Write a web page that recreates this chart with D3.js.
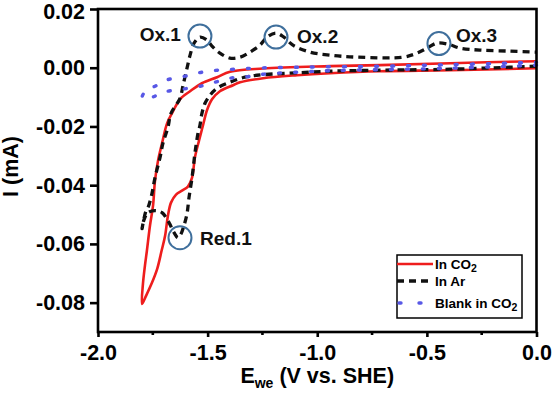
<!DOCTYPE html>
<html><head><meta charset="utf-8">
<script src="https://cdn.jsdelivr.net/npm/d3@7"></script>
<style>
html,body{margin:0;padding:0;background:#fff;}
svg{display:block;font-family:"Liberation Sans",Arial,sans-serif;font-weight:bold;}
</style></head>
<body>
<svg id="chart" width="552" height="393"></svg>
<script>
// ---- data ----
const xTicks = [-2.0, -1.5, -1.0, -0.5, 0.0];
const xTickLabels = ["-2.0", "-1.5", "-1.0", "-0.5", "0.0"];
const xMinorTicks = [-1.75, -1.25, -0.75, -0.25];
const yTicks = [0.02, 0.00, -0.02, -0.04, -0.06, -0.08];
const yTickLabels = ["0.02", "0.00", "-0.02", "-0.04", "-0.06", "-0.08"];

// In CO2 (red solid)
const co2E = [0.0, -0.394, -0.714, -0.942, -1.092, -1.247, -1.352, -1.384, -1.444, -1.480, -1.503, -1.521, -1.539, -1.558, -1.571, -1.590, -1.617, -1.644, -1.667, -1.681, -1.694, -1.710, -1.730, -1.756, -1.781, -1.799,
  -1.795, -1.786, -1.777, -1.763, -1.749, -1.740, -1.726, -1.708, -1.685, -1.658, -1.626, -1.580, -1.526, -1.457, -1.398, -1.247, -0.942, -0.714, -0.394, 0.0];
const co2I = [-0.0002, -0.00084, -0.00118, -0.00187, -0.00255, -0.00357, -0.00494, -0.00597, -0.0080, -0.01075, -0.0145, -0.0196, -0.02476, -0.03056, -0.0374, -0.04047, -0.04184, -0.0432, -0.04594, -0.05038, -0.05721, -0.06234, -0.06849, -0.07361, -0.07771, -0.08044,
  -0.07361, -0.06746, -0.06234, -0.0538, -0.04696, -0.03842, -0.03159, -0.02578, -0.01895, -0.01485, -0.01075, -0.0080, -0.00528, -0.00323, -0.00135, -0.00025, 0.00053, 0.0009, 0.00155, 0.00223];

// In Ar (black dashed)
const arE = [0.0, -0.394, -0.714, -0.942, -1.079, -1.247, -1.330, -1.398, -1.457, -1.489, -1.512, -1.526, -1.535, -1.544, -1.558, -1.571, -1.585, -1.594, -1.608, -1.621, -1.635, -1.653, -1.676, -1.708, -1.740, -1.772, -1.790, -1.799,
  -1.781, -1.772, -1.754, -1.740, -1.717, -1.704, -1.681, -1.667, -1.626, -1.612, -1.594, -1.580, -1.562, -1.535, -1.503, -1.480, -1.444, -1.398, -1.352, -1.307, -1.261, -1.229, -1.188, -1.152, -1.111, -1.033, -0.942, -0.819, -0.609, -0.545, -0.499, -0.454, -0.404, -0.349, -0.258, -0.121, 0.0];
const arI = [0.00053, -0.0005, -0.00084, -0.00118, -0.0017, -0.00238, -0.00323, -0.00494, -0.0070, -0.00938, -0.01211, -0.01553, -0.01963, -0.02236, -0.0292, -0.0374, -0.04423, -0.0497, -0.0538, -0.05653, -0.0579, -0.05619, -0.05277, -0.04935, -0.04867, -0.04935, -0.05175, -0.05482,
  -0.04867, -0.04765, -0.04287, -0.0374, -0.03056, -0.02578, -0.02031, -0.01553, -0.01041, -0.0060, -0.00016, 0.00428, 0.00838, 0.01043, 0.00941, 0.00736, 0.00497, 0.00326, 0.0036, 0.00531, 0.0077, 0.01043, 0.0118, 0.01043, 0.0077, 0.00531, 0.00428, 0.0036, 0.0036, 0.00497, 0.00668, 0.00838, 0.00804, 0.00668, 0.006, 0.00565, 0.00531];

// Blank in CO2 (blue dotted)
const blankE = [0.0, -0.394, -0.714, -0.942, -1.092, -1.247, -1.320, -1.398, -1.466, -1.535, -1.617, -1.704, -1.754, -1.799,
  -1.777, -1.740, -1.690, -1.603, -1.526, -1.453, -1.375, -1.293, -1.079, -0.714, -0.394, 0.0];
const blankI = [0.00087, -0.00016, -0.00067, -0.001, -0.00152, -0.00221, -0.00306, -0.00357, -0.00494, -0.00631, -0.00733, -0.00836, -0.01006, -0.0104,
  -0.00733, -0.00631, -0.00426, -0.00289, -0.00152, -0.00084, -0.0005, -0.00016, 0.00019, 0.00053, 0.00104, 0.00189];

// Peak annotations
const peakNames = ["Ox.1", "Ox.2", "Ox.3", "Red.1"];
const peakE = [-1.535, -1.188, -0.445, -1.626];
const peakI = [0.01078, 0.01043, 0.00821, -0.0579];

const legendLabels = ["In CO", "In Ar", "Blank in CO"];
const legendSubs = ["2", "", "2"];

// ---- layout ----
const svg = d3.select("#chart");
const L = 98, R = 536.5, T = 9, B = 332;
const x = d3.scaleLinear().domain([-2, 0]).range([L, R]);
const y = d3.scaleLinear().domain([-0.09, 0.02]).range([B, T]);

const red = "#ee1d1d", black = "#111111", blue = "#5858e6", ring = "#3f6f9c";

const series = [
  {E: co2E, I: co2I, color: red, width: 2.6, dash: null, cap: "butt"},
  {E: arE, I: arI, color: black, width: 3.3, dash: "7,5", cap: "butt"},
  {E: blankE, I: blankI, color: blue, width: 3.4, dash: "2,14", cap: "round"}
];

const line = d3.line().x(d => x(d[0])).y(d => y(d[1])).curve(d3.curveCatmullRom.alpha(0.5));

const g = svg.append("g");
series.forEach(s => {
  const pts = s.E.map((e, i) => [e, s.I[i]]);
  g.append("path").attr("d", line(pts)).attr("fill", "none")
    .attr("stroke", s.color).attr("stroke-width", s.width)
    .attr("stroke-dasharray", s.dash).attr("stroke-linecap", s.cap)
    .attr("stroke-linejoin", "round");
});

// peak circles and labels
const labelLayout = [
  {dx: -19, dy: -1.5, anchor: "end"},
  {dx: 21, dy: -0.5, anchor: "start"},
  {dx: 17, dy: -8.5, anchor: "start"},
  {dx: 20, dy: 0.5, anchor: "start"}
];
peakNames.forEach((n, i) => {
  const cx = x(peakE[i]), cy = y(peakI[i]);
  svg.append("circle").attr("cx", cx).attr("cy", cy).attr("r", 11.5)
    .attr("fill", "none").attr("stroke", ring).attr("stroke-width", 2);
  svg.append("text").attr("x", cx + labelLayout[i].dx).attr("y", cy + labelLayout[i].dy)
    .attr("dy", "0.36em").attr("text-anchor", labelLayout[i].anchor)
    .attr("font-size", 19).attr("fill", "#111").text(n);
});

// axes
const axW = 2.6;
const xAxis = svg.append("g").attr("transform", `translate(0,${B})`)
  .call(d3.axisBottom(x).tickValues(xTicks).tickFormat((d, i) => xTickLabels[i]).tickSize(5).tickSizeOuter(0).tickPadding(8));
const yAxis = svg.append("g").attr("transform", `translate(${L},0)`)
  .call(d3.axisLeft(y).tickValues(yTicks).tickFormat((d, i) => yTickLabels[i]).tickSize(8).tickSizeOuter(0).tickPadding(5));
[xAxis, yAxis].forEach(a => {
  a.select(".domain").remove();
  a.selectAll(".tick line").attr("stroke", "#000").attr("stroke-width", axW);
  a.selectAll(".tick text").attr("font-size", 21.5).attr("font-weight", "bold")
    .attr("font-family", "Liberation Sans, Arial, sans-serif").attr("fill", "#000");
});
xAxis.selectAll(".tick text").attr("dy", "0.71em");
yAxis.selectAll(".tick text").filter((d, i) => i === 0).attr("transform", "translate(0,2.5)");
svg.append("g").selectAll("line").data(xMinorTicks).join("line")
  .attr("x1", d => x(d)).attr("x2", d => x(d)).attr("y1", B).attr("y2", B + 3)
  .attr("stroke", "#000").attr("stroke-width", axW);

// frame
svg.append("rect").attr("x", L).attr("y", T).attr("width", R - L).attr("height", B - T)
  .attr("fill", "none").attr("stroke", "#000").attr("stroke-width", axW);

// axis titles
const xt = svg.append("text").attr("x", (L + R) / 2).attr("y", 383).attr("text-anchor", "middle")
  .attr("font-size", 21.5).attr("fill", "#000");
xt.append("tspan").text("E");
xt.append("tspan").attr("font-size", 14).attr("dy", 5).text("we");
xt.append("tspan").attr("dy", -5).text(" (V vs. SHE)");

svg.append("text").attr("transform", `translate(18,${(T + B) / 2 - 4}) rotate(-90)`)
  .attr("text-anchor", "middle").attr("font-size", 21.5).attr("fill", "#000").text("I (mA)");

// legend
const lg = svg.append("g");
lg.append("rect").attr("x", 397).attr("y", 255).attr("width", 125).attr("height", 63)
  .attr("fill", "#fff").attr("stroke", "#000").attr("stroke-width", 1.5);
const rowY = [264, 281, 303];
series.forEach((s, i) => {
  lg.append("line").attr("x1", s.cap === "round" ? 399 : 397).attr("x2", 433)
    .attr("y1", rowY[i]).attr("y2", rowY[i]).attr("stroke", s.color).attr("stroke-width", s.width)
    .attr("stroke-dasharray", s.cap === "round" ? "2,18" : s.dash).attr("stroke-linecap", s.cap);
  const t = lg.append("text").attr("x", 435).attr("y", rowY[i]).attr("dy", "0.36em")
    .attr("font-size", 13.5).attr("fill", "#000");
  t.append("tspan").text(legendLabels[i]);
  if (legendSubs[i]) t.append("tspan").attr("font-size", 10.5).attr("dy", 3.5).text(legendSubs[i]);
});
</script>
</body></html>
